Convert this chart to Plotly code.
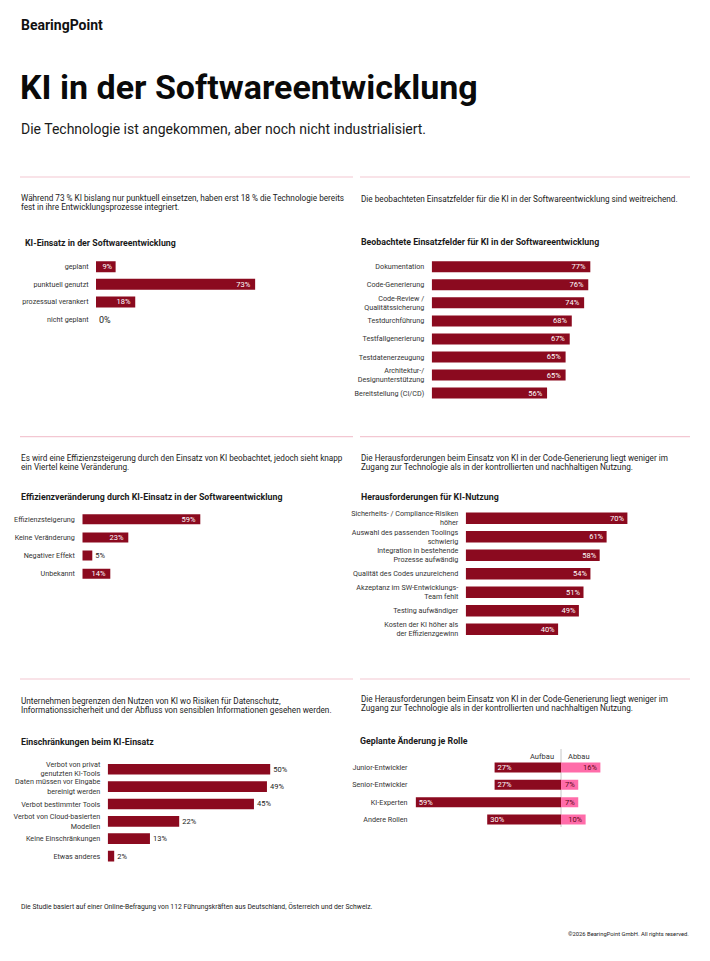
import plotly.graph_objects as go

W, H = 710, 961

# --- data ---------------------------------------------------------------
einsatz_labels = ['geplant', 'punktuell genutzt', 'prozessual verankert', 'nicht geplant']
einsatz_values = [9, 73, 18, 0]

felder_labels = [
    'Dokumentation',
    'Code-Generierung',
    'Code-Review /<br>Qualitätssicherung',
    'Testdurchführung',
    'Testfallgenerierung',
    'Testdatenerzeugung',
    'Architektur-/<br>Designunterstützung',
    'Bereitstellung (CI/CD)',
]
felder_values = [77, 76, 74, 68, 67, 65, 65, 56]

effizienz_labels = ['Effizienzsteigerung', 'Keine Veränderung', 'Negativer Effekt', 'Unbekannt']
effizienz_values = [59, 23, 5, 14]

heraus_labels = [
    'Sicherheits- / Compliance-Risiken<br>höher',
    'Auswahl des passenden Toolings<br>schwierig',
    'Integration in bestehende<br>Prozesse aufwändig',
    'Qualität des Codes unzureichend',
    'Akzeptanz im SW-Entwicklungs-<br>Team fehlt',
    'Testing aufwändiger',
    'Kosten der KI höher als<br>der Effizienzgewinn',
]
heraus_values = [70, 61, 58, 54, 51, 49, 40]

einschr_labels = [
    'Verbot von privat<br>genutzten KI-Tools',
    'Daten müssen vor Eingabe<br>bereinigt werden',
    'Verbot bestimmter Tools',
    'Verbot von Cloud-basierten<br>Modellen',
    'Keine Einschränkungen',
    'Etwas anderes',
]
einschr_values = [50, 49, 45, 22, 13, 2]

rollen_labels = ['Junior-Entwickler', 'Senior-Entwickler', 'KI-Experten', 'Andere Rollen']
aufbau_values = [27, 27, 59, 30]
abbau_values = [16, 7, 7, 10]

RED = '#8B0A1F'
PINK = '#FF6CA9'
LINE = '#F3C7D2'
TEXT = '#1A1A1A'
LABEL = '#333333'
FONT = 'Roboto'


def px(x):
    return x / W


def py(y):
    return 1 - y / H


fig = go.Figure()
annotations = []
shapes = []
layout_axes = {}


def note(text, x, y, size, anchor='left', bold=False, color=TEXT):
    annotations.append(dict(
        text=f'<b>{text}</b>' if bold else text,
        x=px(x), y=py(y), xref='paper', yref='paper',
        xanchor=anchor, yanchor='middle', showarrow=False,
        font=dict(family=FONT, size=size, color=color),
    ))


def paragraph(lines, x, y, size=8.2, pitch=9.2):
    for i, line in enumerate(lines):
        note(line, x, y + i * pitch, size)


def divider(x0, x1, y):
    shapes.append(dict(
        type='line', xref='paper', yref='paper',
        x0=px(x0), x1=px(x1), y0=py(y), y1=py(y),
        line=dict(color=LINE, width=1.2),
    ))


def setup_axes(n, labels, left, right, xrange, top, bottom, ticklen=5):
    s = '' if n == 1 else str(n)
    layout_axes[f'xaxis{s}'] = dict(
        domain=[px(left), px(right)], range=xrange, visible=False,
        anchor=f'y{s}', fixedrange=True,
    )
    layout_axes[f'yaxis{s}'] = dict(
        domain=[py(bottom), py(top)], type='category',
        range=[len(labels) - 0.5, -0.5], anchor=f'x{s}',
        showgrid=False, zeroline=False, showline=False,
        ticks='outside', ticklen=ticklen, tickcolor='rgba(0,0,0,0)',
        tickfont=dict(family=FONT, size=7.2, color=LABEL), fixedrange=True,
    )
    return f'x{s}', f'y{s}'


def hbar(n, labels, values, left, right, xrange, top, bottom, bar_px,
         positions='inside', pad='\u00a0', ticklen=5):
    xa, ya = setup_axes(n, labels, left, right, xrange, top, bottom, ticklen)
    pitch = (bottom - top) / len(labels)
    per_unit = (right - left) / (xrange[1] - xrange[0])
    inside = positions == 'inside'
    # labels of bars too short to hold them go just outside the bar
    pos = [positions if v * per_unit >= 14 else 'outside' for v in values] if inside else positions
    fig.add_trace(go.Bar(
        x=values, y=labels, orientation='h', xaxis=xa, yaxis=ya,
        marker=dict(color=RED, line=dict(width=0)),
        width=bar_px / pitch,
        text=[f'{v}%' + (pad if inside and v >= 10 else '') for v in values],
        textposition=pos,
        insidetextanchor='end', textangle=0, constraintext='none',
        insidetextfont=dict(family=FONT, size=7.5, color='white'),
        outsidetextfont=dict(family=FONT, size=7.5, color=TEXT),
        cliponaxis=False, hoverinfo='skip', showlegend=False,
    ))


# --- header ---------------------------------------------------------------
note('BearingPoint', 19, 25, 14, bold=True, color='#111111')
note('KI in der Softwareentwicklung', 18, 87, 34, bold=True, color='#0A0A0A')
note('Die Technologie ist angekommen, aber noch nicht industrialisiert.', 19, 129, 14)

for y in (177, 436.7, 679):
    divider(20, 353, y)
    divider(360, 690, y)

# --- panel A -------------------------------------------------------------
paragraph([
    'Während 73 % KI bislang nur punktuell einsetzen, haben erst 18 % die Technologie bereits',
    'fest in ihre Entwicklungsprozesse integriert.',
], 19, 198.3)
note('KI-Einsatz in der Softwareentwicklung', 23, 243, 8.8, bold=True)
hbar(1, einsatz_labels, einsatz_values, 96, 314, [0, 100], 257.9, 328.3, 11)
fig.data[-1].update(outsidetextfont=dict(family=FONT, size=9, color=TEXT))

# --- panel B -------------------------------------------------------------
paragraph(['Die beobachteten Einsatzfelder für die KI in der Softwareentwicklung sind weitreichend.'],
          359, 199)
note('Beobachtete Einsatzfelder für KI in der Softwareentwicklung', 359, 241.7, 8.8, bold=True)
hbar(2, felder_labels, felder_values, 431.7, 637.7, [0, 100], 257.7, 402.1, 11)

# --- panel C -------------------------------------------------------------
paragraph([
    'Es wird eine Effizienzsteigerung durch den Einsatz von KI beobachtet, jedoch sieht knapp',
    'ein Viertel keine Veränderung.',
], 19, 458.3)
note('Effizienzveränderung durch KI-Einsatz in der Softwareentwicklung', 19, 496.7, 8.8, bold=True)
hbar(3, effizienz_labels, effizienz_values, 82.3, 282.3, [0, 100], 510.2, 582.8, 10)

# --- panel D -------------------------------------------------------------
paragraph([
    'Die Herausforderungen beim Einsatz von KI in der Code-Generierung liegt weniger im',
    'Zugang zur Technologie als in der kontrollierten und nachhaltigen Nutzung.',
], 359, 458.3)
note('Herausforderungen für KI-Nutzung', 359, 496.7, 8.8, bold=True)
hbar(4, heraus_labels, heraus_values, 465.7, 696.7, [0, 100], 509.0, 638.5, 11.5, pad='')

# --- panel E -------------------------------------------------------------
paragraph([
    'Unternehmen begrenzen den Nutzen von KI wo Risiken für Datenschutz,',
    'Informationssicherheit und der Abfluss von sensiblen Informationen gesehen werden.',
], 19, 700.7)
note('Einschränkungen beim KI-Einsatz', 19, 741.7, 8.8, bold=True)
hbar(5, einschr_labels, einschr_values, 107.7, 302.7, [0, 60], 760.6, 864.7, 10.7,
     positions='outside')

# --- panel F -------------------------------------------------------------
paragraph([
    'Die Herausforderungen beim Einsatz von KI in der Code-Generierung liegt weniger im',
    'Zugang zur Technologie als in der kontrollierten und nachhaltigen Nutzung.',
], 359, 699)
note('Geplante Änderung je Rolle', 358, 741, 8.8, bold=True)
xa, ya = setup_axes(6, rollen_labels, 413, 640, [-60.16, 32.1], 758.8, 828.2, ticklen=3)
pitch_f = (828.2 - 758.8) / len(rollen_labels)
common = dict(
    y=rollen_labels, orientation='h', xaxis=xa, yaxis=ya, width=10 / pitch_f,
    textposition='inside', insidetextanchor='end', textangle=0, constraintext='none',
    cliponaxis=False, hoverinfo='skip', showlegend=False,
)
fig.add_trace(go.Bar(
    x=[-v for v in aufbau_values], text=[f'{v}%' for v in aufbau_values],
    marker=dict(color=RED, line=dict(width=0)),
    insidetextfont=dict(family=FONT, size=7.5, color='white'), **common,
))
fig.add_trace(go.Bar(
    x=abbau_values, text=[f'{v}%' for v in abbau_values],
    marker=dict(color=PINK, line=dict(width=0)),
    insidetextfont=dict(family=FONT, size=7.5, color='#5C0A18'), **common,
))
shapes.append(dict(
    type='line', xref=xa, yref='paper', x0=0, x1=0, y0=py(749), y1=py(827),
    line=dict(color='#C8C8C8', width=1), layer='below',
))
note('Aufbau', 556, 756, 7.5, anchor='right', color=LABEL)
note('Abbau', 566, 756, 7.5, color=LABEL)

# --- footer ---------------------------------------------------------------
note('Die Studie basiert auf einer Online-Befragung von 112 Führungskräften aus Deutschland, '
     'Österreich und der Schweiz.', 19, 906, 6.8)
note('©2026 BearingPoint GmbH. All rights reserved.', 691, 934, 5.8, anchor='right')

fig.update_layout(
    width=W, height=H, margin=dict(l=0, r=0, t=0, b=0),
    paper_bgcolor='white', plot_bgcolor='white',
    barmode='relative', showlegend=False,
    font=dict(family=FONT, color=TEXT),
    annotations=annotations, shapes=shapes,
    **layout_axes,
)

# the page's default 8px body margin would shift the whole figure
fig.write_html(
    'out.html',
    config={'displayModeBar': False},
    post_script="document.body.style.margin = '0';",
)
